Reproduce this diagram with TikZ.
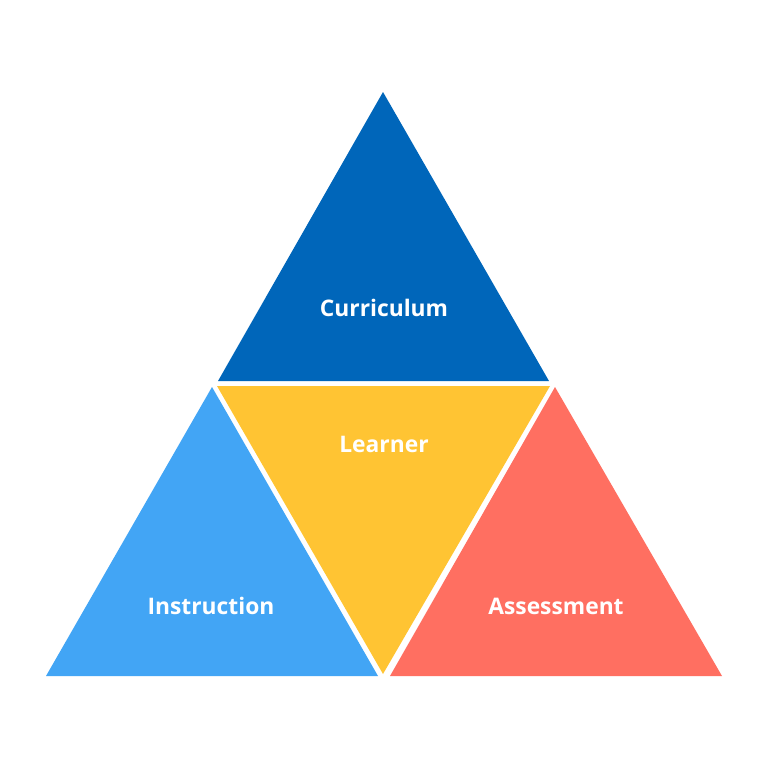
\documentclass[tikz,border=0pt]{standalone}
\usepackage{fontspec}
\setmainfont{Open Sans}
\definecolor{cdark}{RGB}{0,102,186}
\definecolor{cyellow}{RGB}{255,196,51}
\definecolor{clight}{RGB}{66,165,245}
\definecolor{cred}{RGB}{255,111,97}
\begin{document}
\begin{tikzpicture}[x=1pt,y=-1pt,
  lbl/.style={text=white,font=\fontsize{22.8}{26}\selectfont\bfseries,inner sep=0pt}]
\useasboundingbox (0,0) rectangle (768,768);
\fill[white] (0,0) rectangle (768,768);
\fill[cdark] (383,92) -- (549,381) -- (218,381) -- cycle;
\fill[cyellow] (217,386) -- (550,386) -- (383,674) -- cycle;
\fill[clight] (212,387) -- (378,676) -- (46,676) -- cycle;
\fill[cred] (555,387) -- (722,676) -- (390,676) -- cycle;
\node[lbl] (curriculum) at (384,308) {Curriculum};
\node[lbl] (learner) at (384,444) {Learner};
\node[lbl] (instruction) at (211,606) {Instruction};
\node[lbl] (assessment) at (556,606) {Assessment};
\end{tikzpicture}
\end{document}
